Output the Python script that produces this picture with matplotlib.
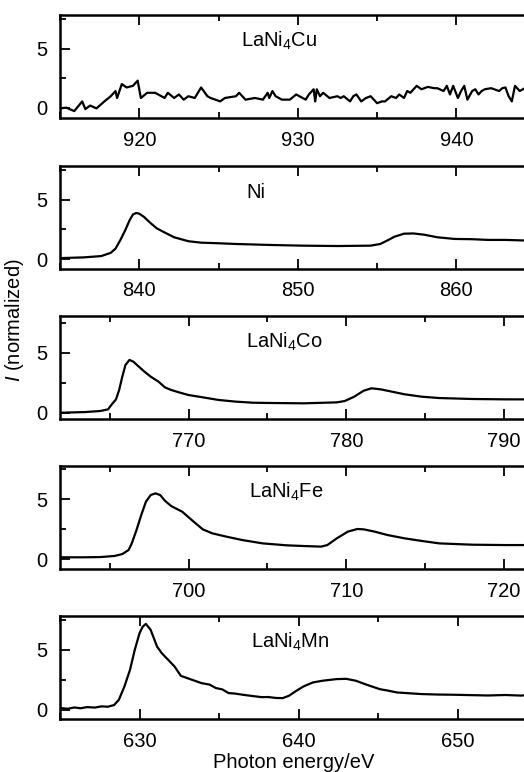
import matplotlib
matplotlib.use("Agg")
import matplotlib.pyplot as plt
from matplotlib.ticker import MultipleLocator

plt.rcParams['font.family'] = ['Liberation Sans', 'DejaVu Sans']
plt.rcParams['mathtext.fontset'] = 'custom'
plt.rcParams['mathtext.rm'] = 'Liberation Sans'
plt.rcParams['mathtext.it'] = 'Liberation Sans:italic'

# ---- LaNi4Cu ----
cu_e = [915.0, 915.4, 915.9, 916.4, 916.6, 916.9, 917.3, 917.8, 918.2, 918.5, 918.6, 918.9,
        919.2, 919.6, 919.9, 920.1, 920.5, 921.0, 921.6, 921.8, 922.2, 922.5, 922.8, 923.1,
        923.5, 923.9, 924.3, 924.5, 924.8, 925.1, 925.4, 926.1, 926.3, 926.7, 927.3, 927.8,
        928.1, 928.2, 928.4, 928.6, 929.0, 929.5, 929.9, 930.1, 930.5, 930.7, 931.0, 931.1,
        931.2, 931.4, 931.6, 932.0, 932.5, 932.7, 932.9, 933.3, 933.5, 933.7, 934.0, 934.3,
        934.6, 935.0, 935.3, 935.5, 935.9, 936.2, 936.4, 936.7, 936.9, 937.1, 937.5, 937.8,
        938.2, 938.6, 938.8, 939.2, 939.4, 939.6, 939.8, 940.1, 940.3, 940.5, 940.7, 941.0,
        941.2, 941.4, 941.6, 941.8, 942.2, 942.7, 942.9, 943.1, 943.3, 943.5, 943.7, 944.0,
        944.4, 944.6]
cu_i = [-0.06, 0.0, -0.29, 0.53, -0.12, 0.18, -0.06, 0.53, 0.97, 1.41, 0.82, 2.0,
        1.71, 1.85, 2.29, 0.82, 1.26, 1.26, 0.82, 1.26, 0.82, 1.12, 0.68, 0.97,
        0.82, 1.71, 0.97, 0.82, 0.68, 0.53, 0.82, 0.97, 1.26, 0.68, 0.82, 0.68,
        1.26, 0.82, 1.41, 0.97, 0.68, 0.68, 1.12, 0.97, 0.68, 1.12, 1.56, 0.53,
        1.56, 0.97, 1.26, 0.82, 0.97, 0.82, 0.97, 0.53, 0.97, 1.12, 0.53, 0.82,
        0.97, 0.38, 0.53, 0.53, 0.97, 0.82, 1.12, 0.82, 1.41, 1.26, 1.85, 1.56,
        1.76, 1.65, 1.65, 1.41, 1.85, 1.12, 1.85, 0.82, 1.41, 1.85, 0.68, 1.41,
        1.56, 1.12, 1.41, 1.56, 1.65, 1.41, 1.65, 1.71, 0.97, 0.53, 1.85, 1.41,
        1.71, 1.56]

# ---- Ni ----
ni_e = [835.0, 836.5, 837.6, 838.2, 838.5, 838.8, 839.1, 839.4, 839.6, 839.8, 840.0, 840.3,
        840.7, 841.1, 841.6, 842.2, 843.1, 843.9, 845.0, 846.1, 848.2, 850.3, 852.5, 854.6,
        855.2, 855.6, 856.1, 856.7, 857.3, 858.0, 858.8, 859.9, 861.0, 862.0, 863.1, 864.6]
ni_i = [0.11, 0.17, 0.28, 0.55, 0.9, 1.6, 2.4, 3.3, 3.75, 3.88, 3.82, 3.55,
        3.05, 2.6, 2.25, 1.85, 1.52, 1.40, 1.35, 1.29, 1.21, 1.15, 1.12, 1.15,
        1.29, 1.55, 1.9, 2.15, 2.17, 2.06, 1.85, 1.71, 1.69, 1.63, 1.63, 1.57]

# ---- LaNi4Co ----
co_e = [761.9, 763.4, 764.4, 764.9, 765.1, 765.4, 765.6, 765.8, 766.0, 766.25, 766.5, 766.8,
        767.2, 767.6, 768.1, 768.5, 768.9, 769.4, 770.0, 770.9, 771.9, 773.0, 774.1, 775.1,
        777.3, 779.4, 779.9, 780.5, 781.1, 781.6, 782.2, 782.9, 783.7, 784.8, 785.9, 788.0,
        790.1, 791.6]
co_i = [0.0, 0.05, 0.14, 0.28, 0.64, 1.11, 1.89, 3.0, 3.97, 4.39, 4.25, 3.89,
        3.42, 3.0, 2.58, 2.11, 1.89, 1.69, 1.47, 1.28, 1.06, 0.92, 0.83, 0.81,
        0.78, 0.86, 0.97, 1.33, 1.83, 2.03, 1.94, 1.75, 1.53, 1.33, 1.22, 1.14,
        1.11, 1.11]

# ---- LaNi4Fe ----
fe_e = [691.9, 693.4, 694.4, 695.3, 695.8, 696.2, 696.4, 696.7, 697.0, 697.3, 697.6, 697.9,
        698.2, 698.5, 698.9, 699.6, 700.2, 700.9, 701.5, 702.4, 703.4, 704.7, 706.2, 707.3,
        708.4, 708.8, 709.4, 710.1, 710.7, 711.1, 711.8, 712.6, 713.7, 714.8, 715.9, 718.0,
        720.1, 721.6]
fe_i = [0.17, 0.17, 0.19, 0.28, 0.44, 0.78, 1.33, 2.44, 3.69, 4.81, 5.36, 5.5,
        5.36, 4.89, 4.44, 3.97, 3.28, 2.5, 2.17, 1.89, 1.61, 1.33, 1.17, 1.11,
        1.06, 1.19, 1.75, 2.31, 2.53, 2.5, 2.31, 2.03, 1.75, 1.53, 1.33, 1.22,
        1.19, 1.19]

# ---- LaNi4Mn ----
mn_e = [625.0, 625.5, 625.9, 626.3, 626.7, 627.2, 627.6, 628.0, 628.4, 628.7, 629.05, 629.4,
        629.7, 630.0, 630.2, 630.4, 630.7, 631.1, 631.4, 631.8, 632.2, 632.6, 633.3, 633.9,
        634.4, 634.8, 635.2, 635.6, 636.0, 636.5, 636.9, 637.3, 637.7, 638.1, 638.6, 639.0,
        639.4, 639.8, 640.3, 640.9, 641.5, 642.0, 642.4, 643.0, 643.6, 644.3, 645.1, 645.6,
        646.2, 646.9, 647.7, 648.7, 649.8, 650.8, 651.9, 653.0, 654.0, 654.5]
mn_i = [0.14, 0.08, 0.19, 0.12, 0.22, 0.18, 0.28, 0.25, 0.39, 0.83, 1.94, 3.33,
        5.0, 6.39, 6.94, 7.17, 6.67, 5.28, 4.72, 4.17, 3.61, 2.83, 2.5, 2.22,
        2.1, 1.81, 1.7, 1.39, 1.35, 1.25, 1.18, 1.11, 1.05, 1.06, 0.98, 0.97,
        1.17, 1.53, 1.94, 2.28, 2.42, 2.5, 2.56, 2.58, 2.42, 2.08, 1.72, 1.6,
        1.44, 1.38, 1.31, 1.27, 1.25, 1.22, 1.19, 1.23, 1.18, 1.25]

labels = ["LaNi$_4$Cu", "Ni", "LaNi$_4$Co", "LaNi$_4$Fe", "LaNi$_4$Mn"]
energies = [cu_e, ni_e, co_e, fe_e, mn_e]
intens = [cu_i, ni_i, co_i, fe_i, mn_i]
xlims = [(915.0, 944.6), (835.0, 864.6), (761.85, 791.6), (691.85, 721.6), (625.0, 654.5)]
ylims = [(-0.9, 7.85), (-0.8, 7.83), (-0.55, 8.05), (-0.83, 7.78), (-0.8, 7.83)]
label_x = [0.467, 0.418, 0.479, 0.483, 0.49]

W, H = 524, 772
FS = 14.5
fig = plt.figure(figsize=(W / 100, H / 100), dpi=100)
tops = [15, 165.7, 316, 466, 616]
ph = 103.3
for k in range(5):
    ax = fig.add_axes([60 / W, 1 - (tops[k] + ph) / H, 1 - 60 / W + 0.01, ph / H])
    ax.plot(energies[k], intens[k], color='black', lw=1.6)
    ax.set_xlim(*xlims[k])
    ax.set_ylim(*ylims[k])
    ax.xaxis.set_major_locator(MultipleLocator(10))
    ax.xaxis.set_minor_locator(MultipleLocator(5))
    ax.yaxis.set_major_locator(MultipleLocator(5))
    ax.yaxis.set_minor_locator(MultipleLocator(2.5))
    ax.tick_params(which='both', direction='in', top=True, right=False, width=1.3,
                   labelsize=FS)
    ax.tick_params(axis='x', pad=9)
    ax.tick_params(axis='y', pad=9)
    ax.tick_params(which='major', length=7)
    ax.tick_params(which='minor', length=4.5)
    for s in ['left', 'bottom', 'top']:
        ax.spines[s].set_linewidth(1.8)
    ax.spines['right'].set_visible(False)
    ax.text(label_x[k], 0.69, labels[k], transform=ax.transAxes, ha='center',
            va='baseline', fontsize=FS)

fig.text(15 / W, 1 - 320 / H, "$I$ (normalized)", rotation=90, ha='center', va='center',
         fontsize=FS)
fig.text(294 / W, 1 - 763 / H, "Photon energy/eV", ha='center', va='center', fontsize=FS)

fig.savefig("out.png", dpi=100)
